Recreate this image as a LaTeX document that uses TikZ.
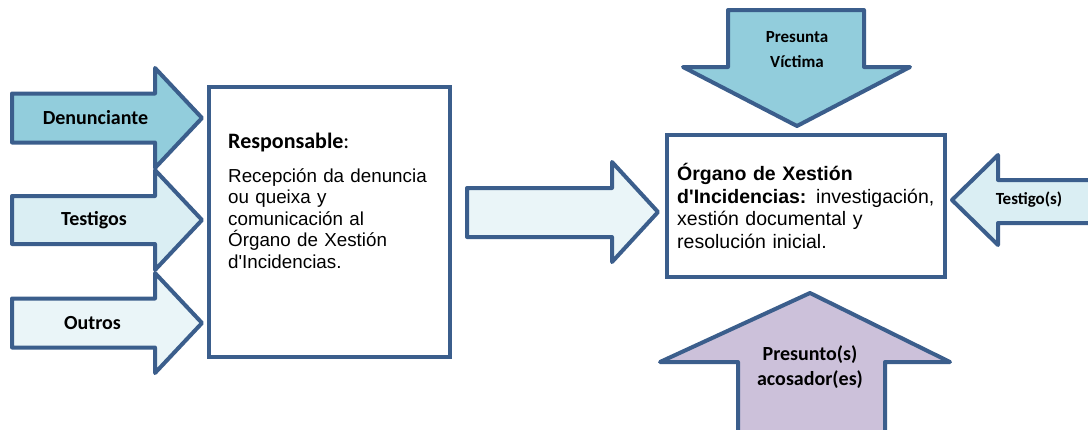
\documentclass[tikz,border=0pt]{standalone}
\usepackage{fontspec}
\setmainfont{Liberation Sans}
\newfontfamily\calibfont{Carlito}

\definecolor{edgeblue}{HTML}{3B5E8C}
\definecolor{aquadark}{HTML}{92CDDC}
\definecolor{aqualight}{HTML}{DAEEF3}
\definecolor{aquapale}{HTML}{EAF5F8}
\definecolor{lavender}{HTML}{CCC1DA}

\tikzset{
  blockarrow/.style = {draw = edgeblue, line width = 4pt, line join = round},
  frame/.style      = {draw = edgeblue, line width = 3.5pt, fill = white, inner sep = 0pt},
  biglabel/.style   = {font = {\calibfont\bfseries\fontsize{20}{25}\selectfont}, align = center},
  smalllabel/.style = {font = {\calibfont\bfseries\fontsize{17}{25}\selectfont}, align = center},
}

\begin{document}
\begin{tikzpicture}[x = 1pt, y = -1pt]
        \path[use as bounding box, fill = white] (0, 0) rectangle (1088, 429);

        % ------------------------------------------------------------------------
        % Left inputs
        \draw[blockarrow, fill = aquadark]
          (12, 93.5) -- (155, 93.5) -- (155, 68) -- (202, 118)
          -- (155, 168) -- (155, 142.5) -- (12, 142.5) -- cycle;
        \draw[blockarrow, fill = aqualight]
          (12, 196) -- (155, 196) -- (155, 170) -- (202, 220)
          -- (155, 270) -- (155, 244) -- (12, 244) -- cycle;
        \draw[blockarrow, fill = aquapale]
          (12, 298.5) -- (155, 298.5) -- (155, 273) -- (202, 323)
          -- (155, 373) -- (155, 347.5) -- (12, 347.5) -- cycle;

        \node[biglabel] at (95.5, 118) (denun)   {Denunciante};
        \node[biglabel] at (94, 220)   (testig)  {Testigos};
        \node[biglabel] at (92.5, 323) (outros)  {Outros};

        % ------------------------------------------------------------------------
        % Responsable
        \node[frame, minimum width = 241, minimum height = 270] at (329.5, 222) (resp) {};

        \node[anchor = base west, inner sep = 0pt] at (228, 148) (resptitle)
          {\calibfont\fontsize{22}{26}\selectfont\textbf{Responsable}:};
        \node[anchor = base west, inner sep = 0pt, text width = 215, align = left,
              font = \fontsize{18.8}{21.5}\selectfont] at (228, 182) (resptext)
          {Recepción da denuncia\\ ou queixa y\\ comunicación al\\ Órgano de Xestión\\
           d\textquotesingle Incidencias.};

        % ------------------------------------------------------------------------
        % Middle
        \draw[blockarrow, fill = aquapale]
          (467, 188) -- (612, 188) -- (612, 162) -- (658, 212)
          -- (612, 262) -- (612, 237) -- (467, 237) -- cycle;

        % ------------------------------------------------------------------------
        % Organo
        \node[frame, minimum width = 278, minimum height = 142] at (806, 206) (organo) {};

        \node[anchor = base west, inner sep = 0pt, text width = 270, align = left,
              font = \fontsize{19.5}{22.7}\selectfont] at (677, 180.5) (organotext)
          {\textbf{Órgano de Xestión}\\
           \textbf{d\textquotesingle Incidencias:} investigación,\\
           xestión documental y\\ resolución inicial.};

        \draw[blockarrow, fill = aquadark]
          (728, 10) -- (864, 10) -- (864, 67) -- (910, 67) -- (797, 126)
          -- (683, 67) -- (728, 67) -- cycle;
        \node[smalllabel] at (797, 49.5) (victima) {Presunta\\Víctima};

        \draw[blockarrow, fill = aqualight]
          (1100, 180) -- (998, 180) -- (998, 155) -- (952, 200)
          -- (998, 245) -- (998, 223) -- (1100, 223);
        \node[smalllabel] at (1029, 200) (testigo) {Testigo(s)};

        \draw[blockarrow, fill = lavender]
          (738, 440) -- (738, 362) -- (660, 362) -- (810, 293)
          -- (950, 362) -- (885, 362) -- (885, 440);
        \node[biglabel] at (810, 367.5) (acosador) {Presunto(s)\\acosador(es)};
      \end{tikzpicture}
\end{document}
